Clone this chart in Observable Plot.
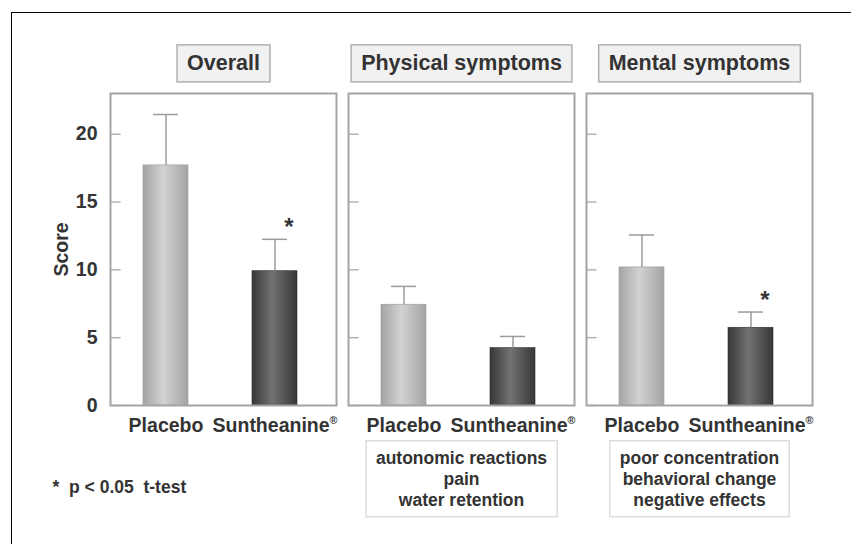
<!DOCTYPE html>
<html><head><meta charset="utf-8">
<script src="https://cdn.jsdelivr.net/npm/d3@7"></script>
<script src="https://cdn.jsdelivr.net/npm/@observablehq/plot@0.6"></script>
<style>
body{margin:0;background:#fff;}
#wrap{position:relative;width:851px;height:544px;overflow:hidden;font-family:"Liberation Sans",Arial,sans-serif;}
#frame{position:absolute;left:11px;top:12px;right:-5px;bottom:-5px;border-top:1.5px solid #000;border-left:1.5px solid #000;}
#wrap svg{position:absolute;left:0;top:0;}
</style></head><body><div id="wrap"><div id="frame"></div></div>
<script>
const panels = ["Overall", "Physical symptoms", "Mental symptoms"];
const groups = ["Placebo", "Suntheanine"];
const placeboMean = [17.7, 7.43, 10.18];
const placeboUpper = [21.45, 8.78, 12.57];
const sunthMean = [9.9, 4.23, 5.73];
const sunthUpper = [12.25, 5.09, 6.89];
const sunthSignificant = [true, false, true];
const descriptions = ["", "autonomic reactions\npain\nwater retention", "poor concentration\nbehavioral change\nnegative effects"];
const yTicks = [0, 5, 10, 15, 20];
const footnote = "*\u00a0\u00a0p < 0.05\u00a0\u00a0t-test";

const rows = panels.flatMap((p, i) => [
  {panel: p, group: "Placebo", mean: placeboMean[i], upper: placeboUpper[i], sig: false},
  {panel: p, group: "Suntheanine", mean: sunthMean[i], upper: sunthUpper[i], sig: sunthSignificant[i]}
]);
const descRows = panels.map((p, i) => ({panel: p, desc: descriptions[i]})).filter(d => d.desc);

const W = 851, H = 544, mL = 110, mR = 38;
const fxPad = 0.05;
const bw = (W - mL - mR) / (panels.length - fxPad) * (1 - fxPad);

const font = "Liberation Sans, Arial, Helvetica, sans-serif";
const ink = "#333";

const defs = () => {
  const d = d3.create("svg:defs");
  const mk = (id, a, b) => {
    const g = d.append("linearGradient").attr("id", id).attr("x1", "0").attr("x2", "1").attr("y1", "0").attr("y2", "0");
    g.append("stop").attr("offset", "0").attr("stop-color", a);
    g.append("stop").attr("offset", "0.45").attr("stop-color", b);
    g.append("stop").attr("offset", "1").attr("stop-color", a);
  };
  mk("gP", "#a4a4a4", "#d2d2d2");
  mk("gS", "#373737", "#727272");
  return d.node();
};

const plot = Plot.plot({
  width: W, height: H,
  marginTop: 93, marginBottom: H - 405, marginLeft: mL, marginRight: mR,
  style: {fontFamily: font, background: "transparent", color: ink},
  fx: {domain: panels, paddingInner: fxPad, paddingOuter: 0, axis: null, label: null},
  x: {domain: groups, paddingInner: 0.587, paddingOuter: 0.33, align: 0.465, label: null},
  y: {domain: [0, 23], label: null},
  marks: [
    defs,
    Plot.ruleY(yTicks, {y: d => d, stroke: "#aaa", strokeWidth: 1.3, insetLeft: 1, insetRight: bw - 11}),
    Plot.barY(rows.filter(d => d.group === "Placebo"), {fx: "panel", x: "group", y: "mean", fill: "url(#gP)", stroke: "#9a9a9a", strokeWidth: 0.6}),
    Plot.barY(rows.filter(d => d.group === "Suntheanine"), {fx: "panel", x: "group", y: "mean", fill: "url(#gS)", stroke: "#2e2e2e", strokeWidth: 0.6}),
    Plot.ruleX(rows, {fx: "panel", x: "group", y1: "mean", y2: "upper", stroke: "#9c9c9c", strokeWidth: 1.5}),
    Plot.tickY(rows, {fx: "panel", x: "group", y: "upper", stroke: "#9c9c9c", strokeWidth: 1.5, insetLeft: 10, insetRight: 10}),
    Plot.text(rows.filter(d => d.sig), {fx: "panel", x: "group", y: "upper", text: () => "*", dx: 14, dy: -12, fontSize: 24, fontWeight: "bold", fill: ink}),
    Plot.frame({stroke: "#a4a4a4", strokeWidth: 2}),
    Plot.axisY({ticks: yTicks, tickSize: 0, tickPadding: 13, fontSize: 19.5, fontWeight: "bold", fill: ink,
      label: "Score", labelAnchor: "center", labelOffset: 56, labelArrow: "none"}),
    Plot.axisX({tickSize: 0, tickPadding: 13, fontSize: 19.5, fontWeight: "bold", fill: ink, label: null,
      tickFormat: d => d === "Suntheanine" ? "Suntheanine®" : d}),
    Plot.text(panels, {fx: d => d, text: d => d, frameAnchor: "top", lineAnchor: "middle", dy: -30, fontSize: 21.5, fontWeight: "bold", fill: ink}),
    Plot.text(descRows, {fx: "panel", text: "desc", frameAnchor: "bottom", lineAnchor: "middle", dy: 72.5, fontSize: 17.5, lineHeight: 1.2, fontWeight: "bold", fill: ink}),
    Plot.text([footnote], {fx: () => panels[0], text: d => d, frameAnchor: "bottom-left", lineAnchor: "middle", textAnchor: "start", dx: -58, dy: 81.5, fontSize: 17.5, fontWeight: "bold", fill: ink})
  ]
});

document.getElementById("wrap").appendChild(plot);
const svg = d3.select(plot);

// superscript registered mark
svg.selectAll("text").each(function() {
  const t = this.textContent;
  if (this.childElementCount === 0 && t.endsWith("®")) {
    const s = d3.select(this);
    s.text(t.slice(0, -1));
    s.append("tspan").attr("font-size", "0.55em").attr("dy", "-0.75em").text("®");
  }
});

// boxes behind titles and descriptions
const descKeys = descriptions.filter(d => d).map(d => d.replace(/\n/g, ""));
svg.selectAll("text").each(function() {
  const t = this.textContent;
  let padX, padY, fill, stroke;
  if (panels.includes(t)) { padX = 10; padY = 6.5; fill = "#f1f1f1"; stroke = "#b0b0b0"; }
  else if (descKeys.includes(t)) { padX = 10; padY = 7; fill = "#fff"; stroke = "#dcdcdc"; }
  else return;
  const b = this.getBBox();
  const tr = this.getAttribute("transform");
  const r = d3.select(this.parentNode).insert("rect", () => this)
    .attr("x", b.x - padX).attr("y", b.y - padY)
    .attr("width", b.width + 2 * padX).attr("height", b.height + 2 * padY)
    .attr("fill", fill).attr("stroke", stroke).attr("stroke-width", 1.5);
  if (tr) r.attr("transform", tr);
});
</script></body></html>
